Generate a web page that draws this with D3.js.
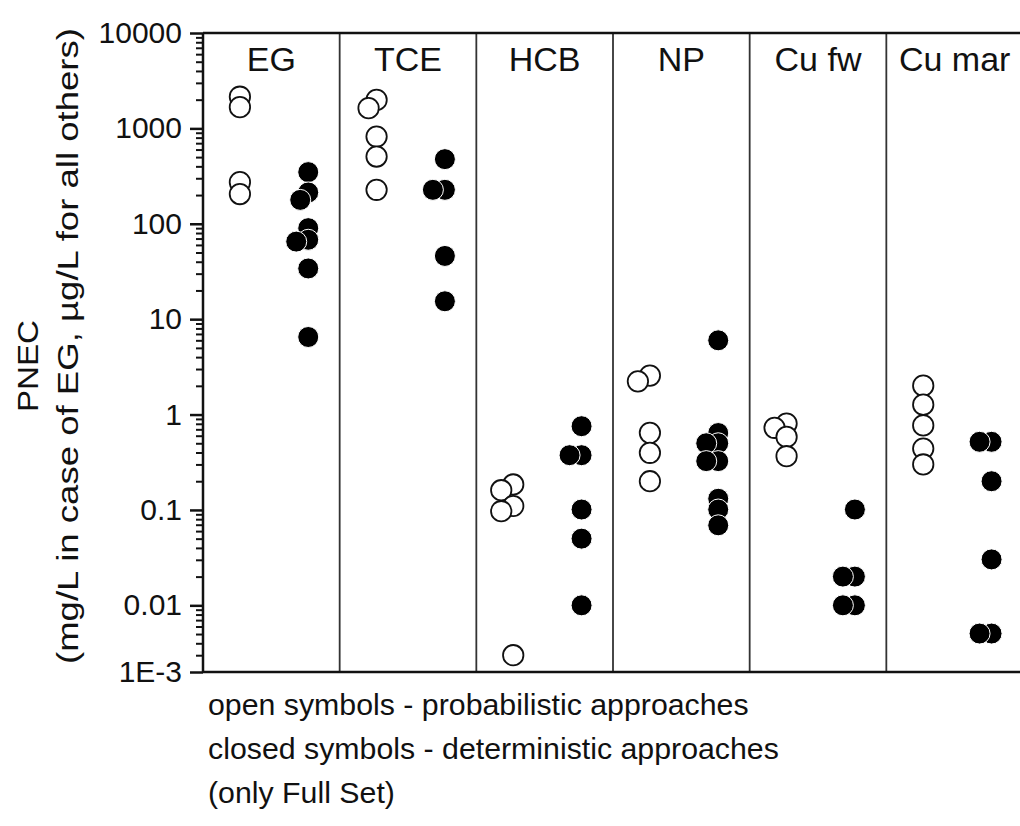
<!DOCTYPE html>
<html>
<head>
<meta charset="utf-8">
<script src="https://cdn.jsdelivr.net/npm/d3@7"></script>
<style>
  body { margin: 0; background: white; }
  svg { display: block; font-family: "Liberation Sans", Arial, sans-serif; }
  .axis path, .axis line { stroke: #111; }
  .axis text { fill: #111; }
</style>
</head>
<body>
<svg id="pnec"></svg>
<script>
// categories (panels) across the top
let categories = ['EG', 'TCE', 'HCB', 'NP', 'Cu fw', 'Cu mar'];

// open symbols - probabilistic approaches
let probEG = [2150, 1670, 273, 205];
let probTCE = [1990, 1630, 820, 507, 227];
let probHCB = [0.185, 0.161, 0.110, 0.097, 0.003];
let probNP = [2.56, 2.23, 0.643, 0.397, 0.200];
let probCuFw = [0.805, 0.726, 0.583, 0.366];
let probCuMar = [2.01, 1.27, 0.77, 0.44, 0.30];

// closed symbols - deterministic approaches
let detEG = [348, 213, 178, 90, 68, 65, 34, 6.5];
let detTCE = [476, 227, 227, 46, 15.4];
let detHCB = [0.755, 0.375, 0.375, 0.101, 0.050, 0.010];
let detNP = [6.0, 0.64, 0.50, 0.50, 0.325, 0.325, 0.131, 0.101, 0.069];
let detCuFw = [0.101, 0.020, 0.020, 0.010, 0.010];
let detCuMar = [0.518, 0.518, 0.20, 0.0303, 0.00506, 0.00506];

// y axis ticks and their labels (bottom tick is labelled 1E-3 in the original)
let tickValues = [0.002, 0.01, 0.1, 1, 10, 100, 1000, 10000];
let tickLabels = ['1E-3', '0.01', '0.1', '1', '10', '100', '1000', '10000'];

let notes = [
  'open symbols - probabilistic approaches',
  'closed symbols - deterministic approaches',
  '(only Full Set)'
];

let prob = [probEG, probTCE, probHCB, probNP, probCuFw, probCuMar];
let det = [detEG, detTCE, detHCB, detNP, detCuFw, detCuMar];

// configuration of svg/plot area
let config = { 'svg': {}, 'margin': {}, 'plot': {} };
config.svg.width = 1020;
config.svg.height = 826;

config.margin.top = 33;
config.margin.left = 203;
config.margin.bottom = 154;

config.plot.x = config.margin.left;
config.plot.y = config.margin.top;
config.plot.width = 820; // runs past the right edge, like the original
config.plot.height = config.svg.height - config.margin.top - config.margin.bottom;

let svg = d3.select('svg#pnec');
svg.attr('width', config.svg.width);
svg.attr('height', config.svg.height);

let plot = svg.append('g');
plot.attr('id', 'plot');
plot.attr('transform', translate(config.plot.x, config.plot.y));

// scales
let scale = {};
scale.x = d3.scaleBand()
  .domain(categories)
  .range([0, config.plot.width])
  .padding(0);

scale.y = d3.scaleLog()
  .domain([0.002, 10000])
  .range([config.plot.height, 0]);

// two symbol columns within each panel
scale.kind = d3.scaleOrdinal()
  .domain(['open', 'closed'])
  .range([0.27, 0.77]);

// minor ticks 2..9 per decade
let minor = [];
for (let e = -3; e < 4; e++) {
  for (let k = 2; k <= 9; k++) {
    let v = k * Math.pow(10, e);
    if (v > 0.002 && v < 10000) minor.push(v);
  }
}

let axis = {};
axis.y = d3.axisLeft(scale.y)
  .tickValues(tickValues)
  .tickSize(13)
  .tickPadding(8)
  .tickFormat((d, i) => tickLabels[i]);

axis.minor = d3.axisLeft(scale.y)
  .tickValues(minor)
  .tickSize(7)
  .tickFormat('');

let gMinor = plot.append('g');
gMinor.attr('class', 'axis');
gMinor.call(axis.minor);
gMinor.selectAll('line').style('stroke-width', 2);
gMinor.select('.domain').remove();

let gy = plot.append('g');
gy.attr('class', 'axis');
gy.call(axis.y);
gy.selectAll('line').style('stroke-width', 2.5);
gy.select('.domain').remove();
gy.selectAll('text')
  .style('font-size', '30px')
  .style('font-family', '"Liberation Sans", Arial, sans-serif');

// panel separators
plot.selectAll('line.sep')
  .data(categories.slice(1))
  .enter()
  .append('line')
  .attr('class', 'sep')
  .attr('x1', d => scale.x(d))
  .attr('x2', d => scale.x(d))
  .attr('y1', 0)
  .attr('y2', config.plot.height)
  .style('stroke', '#333')
  .style('stroke-width', 1.8);

// frame: left, top, bottom
let frame = plot.append('g');
frame.append('line')
  .attr('x1', 0).attr('x2', 0)
  .attr('y1', 0).attr('y2', config.plot.height);
frame.append('line')
  .attr('x1', 0).attr('x2', config.plot.width)
  .attr('y1', 0).attr('y2', 0);
frame.append('line')
  .attr('x1', 0).attr('x2', config.plot.width)
  .attr('y1', config.plot.height).attr('y2', config.plot.height);
frame.selectAll('line')
  .style('stroke', '#111')
  .style('stroke-width', 2.5);

// panel titles
plot.selectAll('text.panel')
  .data(categories)
  .enter()
  .append('text')
  .attr('class', 'panel')
  .attr('x', d => scale.x(d) + scale.x.bandwidth() / 2)
  .attr('y', 38)
  .attr('text-anchor', 'middle')
  .style('font-size', '34px')
  .style('fill', '#111')
  .text(d => d);

// place points, nudging sideways where they overlap
function dodge(values, cat, kind) {
  let cx = scale.x(cat) + scale.x.bandwidth() * scale.kind(kind);
  let placed = [];
  let steps = [0, -4, 4, -8, 8, -12, 12, -16, 16];
  values.slice().sort((a, b) => b - a).forEach(function(v) {
    let y = scale.y(v);
    let x = cx;
    for (let s of steps) {
      let ok = placed.every(p => Math.hypot(p.x - (cx + s), p.y - y) >= 10);
      if (ok) { x = cx + s; break; }
    }
    placed.push({ 'x': x, 'y': y, 'value': v, 'kind': kind });
  });
  return placed;
}

let points = [];
categories.forEach(function(cat, i) {
  points = points.concat(dodge(prob[i], cat, 'open'));
  points = points.concat(dodge(det[i], cat, 'closed'));
});

let dots = plot.selectAll('circle.dot')
  .data(points)
  .enter()
  .append('circle')
  .attr('class', 'dot')
  .attr('cx', d => d.x)
  .attr('cy', d => d.y)
  .attr('r', d => d.kind === 'open' ? 10.2 : 10.5)
  .style('fill', d => d.kind === 'open' ? 'white' : '#000')
  .style('stroke', d => d.kind === 'open' ? '#111' : 'white')
  .style('stroke-width', d => d.kind === 'open' ? 1.8 : 1);

// y axis title
let title = svg.append('g');
title.append('text')
  .attr('transform', translate(38, 366) + ' rotate(-90)')
  .attr('text-anchor', 'middle')
  .attr('textLength', 92)
  .attr('lengthAdjust', 'spacingAndGlyphs')
  .style('font-size', '30px')
  .style('fill', '#111')
  .text('PNEC');
title.append('text')
  .attr('transform', translate(78, 346) + ' rotate(-90)')
  .attr('text-anchor', 'middle')
  .attr('textLength', 636)
  .attr('lengthAdjust', 'spacingAndGlyphs')
  .style('font-size', '30px')
  .style('fill', '#111')
  .text('(mg/L in case of EG, \u00b5g/L for all others)');

// notes under the chart
svg.selectAll('text.note')
  .data(notes)
  .enter()
  .append('text')
  .attr('class', 'note')
  .attr('x', 208)
  .attr('y', (d, i) => 715 + i * 44)
  .style('font-size', '30.3px')
  .style('fill', '#111')
  .text(d => d);

// helper method to make translating easier
function translate(x, y) {
  return 'translate(' + x + ',' + y + ')';
}
</script>
</body>
</html>
